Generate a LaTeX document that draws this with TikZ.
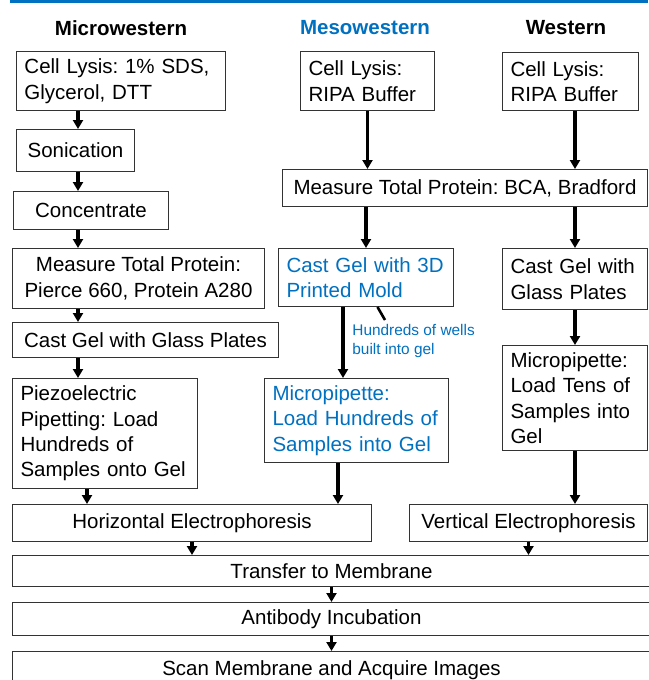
\documentclass[tikz,border=0pt]{standalone}
\usepackage{fontspec}
\setmainfont{Liberation Sans}
\usetikzlibrary{arrows.meta}

\definecolor{mesoblue}{RGB}{0,112,192}
\newcommand{\boxfont}{\fontsize{10.25}{12.7}\selectfont}
\newcommand{\notefont}{\fontsize{7.7}{9.7}\selectfont}
\frenchspacing

\begin{document}
\begin{tikzpicture}[x=0.5pt,y=-0.5pt,
  box/.style={draw=black!80, line width=0.5pt, anchor=north west,
    inner xsep=4pt, inner ysep=0pt, font=\boxfont},
  lbox/.style={box, align=left},
  cbox/.style={box, align=center},
  arr/.style={-{Triangle[width=5pt,length=4.5pt]}, line width=1.7pt},
  title/.style={font=\boxfont\bfseries}]

\useasboundingbox (0,0) rectangle (648,680);

% Rule on top
\draw[mesoblue, line width=1.4pt] (10,1.3) -- (648,1.3);

% Titles
\node[title] (tmicro) at (121,28) {Microwestern};
\node[title, text=mesoblue] (tmeso) at (365,28) {Mesowestern};
\node[title] (twest) at (566,28) {Western};

% Microwestern
\node[lbox, text width=96.5pt, minimum height=29.5pt] (mlysis) at (16,51)
{Cell Lysis: 1\% SDS,\\Glycerol, DTT};
\node[cbox, minimum width=59pt, minimum height=21pt] (sonic) at (16,129)
{Sonication};
\node[cbox, minimum width=77.5pt, minimum height=19pt] (conc) at (13,191)
{Concentrate};
\node[cbox, minimum width=126pt, minimum height=30pt] (mmeas) at (12,248)
{Measure Total Protein:\\Pierce 660, Protein A280};
\node[cbox, minimum width=133pt, minimum height=17.5pt] (mcast) at (12,322)
{Cast Gel with Glass Plates};
\node[lbox, text width=84.5pt, minimum height=55pt] (piezo) at (12,378)
{Piezoelectric\\Pipetting: Load\\Hundreds of\\Samples onto Gel};

% Mesowestern
\node[lbox, text width=59pt, minimum height=29.5pt] (mlyso) at (300,51)
{Cell Lysis:\\RIPA Buffer};
\node[cbox, minimum width=182.5pt, minimum height=18.5pt] (bca) at (282,169)
{Measure Total Protein: BCA, Bradford};
\node[lbox, text width=79.5pt, minimum height=29pt, text=mesoblue] (cast3d) at (278,248)
{Cast Gel with 3D\\Printed Mold};
\node[lbox, text width=84pt, minimum height=42pt, text=mesoblue] (mpip) at (264,378)
{Micropipette:\\Load Hundreds of\\Samples into Gel};
\node[font=\notefont, text=mesoblue, align=left, anchor=north west, inner sep=0pt]
(wells) at (352,324) {Hundreds of wells\\built into gel};

% Western
\node[lbox, text width=60pt, minimum height=29pt] (wlys) at (502,52)
{Cell Lysis:\\RIPA Buffer};
\node[lbox, text width=64.5pt, minimum height=30.5pt] (wcast) at (502,248)
{Cast Gel with\\Glass Plates};
\node[lbox, text width=64.5pt, minimum height=52.5pt] (wpip) at (502,345)
{Micropipette:\\Load Tens of\\Samples into\\Gel};

% Common steps
\node[cbox, minimum width=179.5pt, minimum height=18.5pt] (he) at (12,504)
{Horizontal Electrophoresis};
\node[cbox, minimum width=119pt, minimum height=18.5pt] (ve) at (409,504)
{Vertical Electrophoresis};
\node[cbox, minimum width=319pt, minimum height=15.5pt] (transfer) at (12,555)
{Transfer to Membrane};
\node[cbox, minimum width=319pt, minimum height=16.5pt] (anti) at (12,602)
{Antibody Incubation};
\node[cbox, minimum width=319pt, minimum height=18.5pt] (scan) at (12,651)
{Scan Membrane and Acquire Images};

% Arrows
\coordinate (mcol) at (78,0);
\coordinate (heup) at (87,0);
\coordinate (mpipx) at (343,0);
\coordinate (mhe) at (338,0);

\foreach \a/\b in {mlysis/sonic,sonic/conc,conc/mmeas,mmeas/mcast,mcast/piezo}
{
\draw[arr] (\a.south -| mcol) -- (\b.north -| mcol);
}
\draw[arr] (piezo.south -| heup) -- (he.north -| heup);

\draw[arr] (mlyso.south) -- (bca.north -| mlyso.south);
\draw[arr] (bca.south -| cast3d.north) -- (cast3d.north);
\draw[arr] (cast3d.south -| mpipx) -- (mpip.north -| mpipx);
\draw[arr] (mpip.south -| mhe) -- (he.north -| mhe);
\draw[line width=1.3pt] ([xshift=5.75pt]cast3d.south) -- ([xshift=16.5pt,yshift=2pt]wells.north west);

\draw[arr] (wlys.south -| wcast.north) -- (bca.north -| wcast.north);
\draw[arr] (bca.south -| wcast.north) -- (wcast.north);
\draw[arr] (wcast.south) -- (wpip.north);
\draw[arr] (wpip.south) -- (ve.north -| wpip.south);

\draw[arr] (he.south) -- (transfer.north -| he.south);
\draw[arr] (ve.south) -- (transfer.north -| ve.south);
\draw[arr] (transfer.south) -- (anti.north);
\draw[arr] (anti.south) -- (scan.north);

\end{tikzpicture}
\end{document}
